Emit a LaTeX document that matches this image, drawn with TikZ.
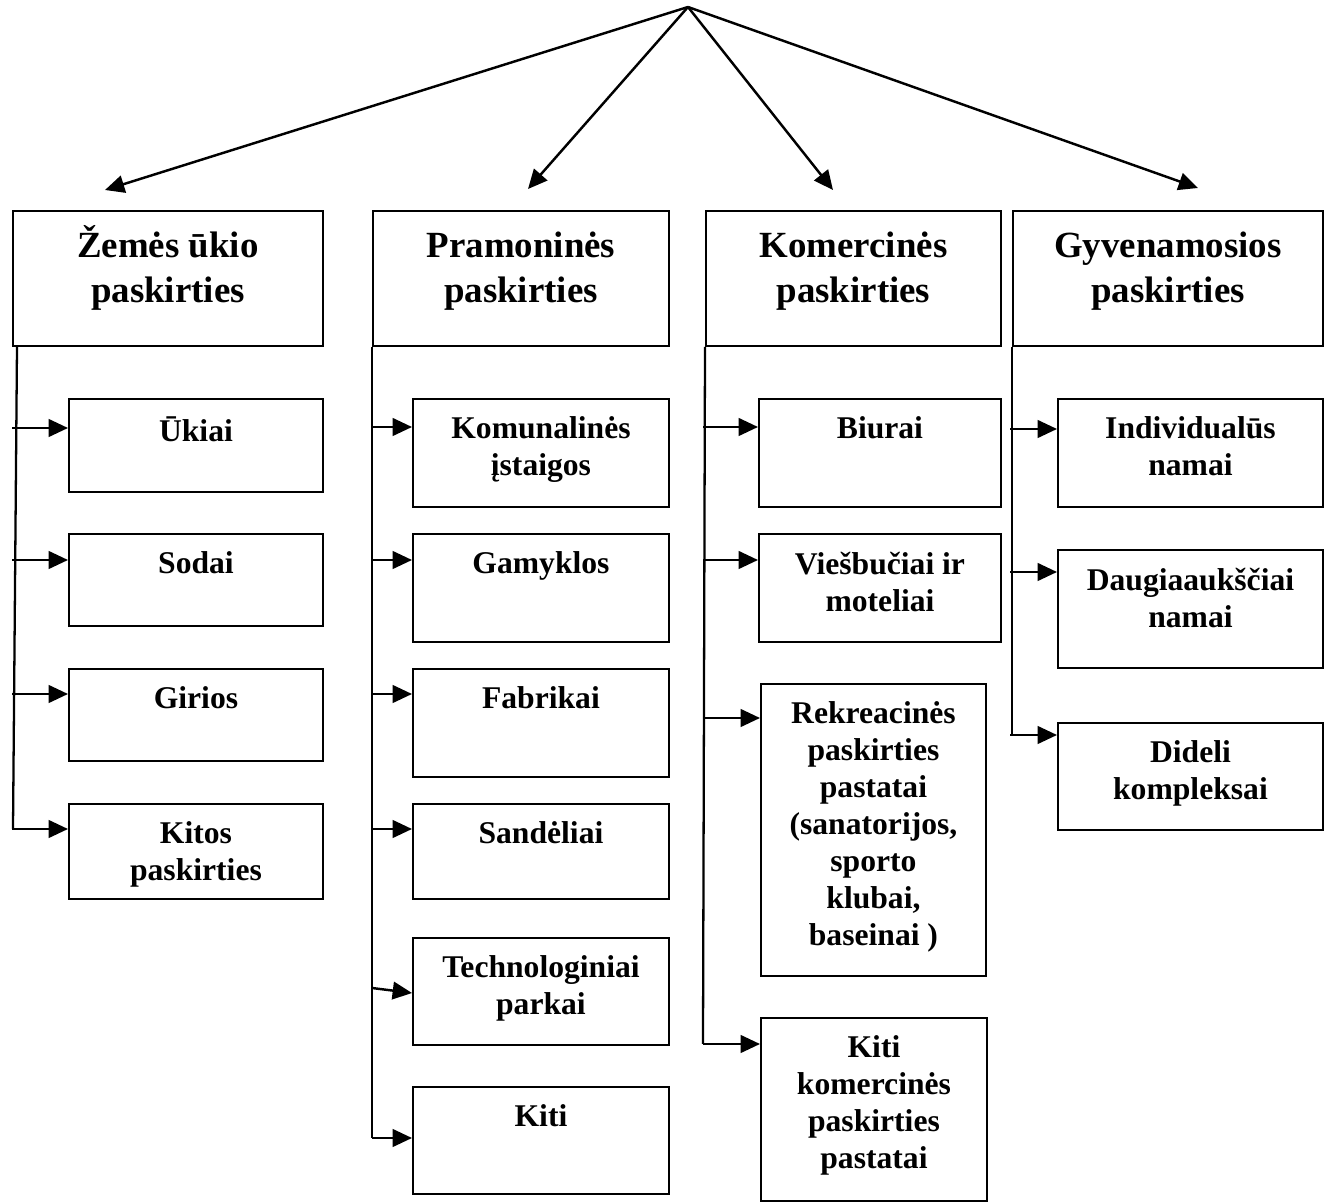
\documentclass[tikz,border=0pt]{standalone}
\usepackage{fontspec}
\setmainfont{Liberation Serif}
\usetikzlibrary{positioning,arrows.meta}
\def\pxu{0.02cm}
\tikzset{
  cbox/.style={draw, line width=1.1pt, inner sep=0pt, anchor=north west},
  htxt/.style={inner sep=0pt, align=center, font=\fontsize{21}{25.5}\selectfont\bfseries},
  ctxt/.style={inner sep=0pt, align=center, font=\fontsize{18}{21}\selectfont\bfseries},
  arr/.style={line width=1.4pt, -{Triangle[length=11pt,width=10pt]}},
  trunk/.style={line width=1.3pt},
}
\begin{document}
\begin{tikzpicture}[x=0.02cm, y=-0.02cm]
\useasboundingbox (0,0) rectangle (1330,1202);
% header boxes
\foreach \n/\x/\w/\d/\t in {hzemes/12/310/0.3/{Žemės ūkio\\paskirties}, hpram/372/296/0.44/{Pramoninės\\paskirties}, hkom/705/295/0.44/{Komercinės\\paskirties}, hgyv/1012/310/0.44/{Gyvenamosios\\paskirties}}
{
  \node[cbox, minimum width=\w*\pxu, minimum height=135*\pxu] (\n) at (\x,210) {};
  \node[htxt, below=\d cm of \n.north] (\n-t) {\t};
}
% top arrows
\coordinate (apex) at (688,7);
\foreach \c/\x/\y in {az/105/190, ap/528/189, ak/833/190, ag/1198/188}
{
  \coordinate (\c) at (\x,\y);
  \draw[arr] (apex) -- (\c);
}
% sub boxes
\foreach \n/\x/\y/\w/\h/\t in {
  ukiai/68/398/254/93/{Ūkiai},
  sodai/68/533/254/92/{Sodai},
  girios/68/668/254/92/{Girios},
  kitos/68/803/254/95/{Kitos\\paskirties},
  komun/412/398/256/108/{Komunalinės\\įstaigos},
  gamyk/412/533/256/108/{Gamyklos},
  fabrik/412/668/256/108/{Fabrikai},
  sandel/412/803/256/95/{Sandėliai},
  techno/412/937/256/107/{Technologiniai\\parkai},
  kitip/412/1086/256/107/{Kiti},
  biurai/758/398/242/108/{Biurai},
  viesb/758/533/242/108/{Viešbučiai ir\\moteliai},
  rekre/760/683/225/292/{Rekreacinės\\paskirties\\pastatai\\(sanatorijos,\\sporto\\klubai,\\baseinai )},
  kitik/760/1017/226/183/{Kiti\\komercinės\\paskirties\\pastatai},
  indiv/1057/398/265/108/{Individualūs\\namai},
  daugia/1057/549/265/118/{Daugiaaukščiai\\namai},
  dideli/1057/722/265/107/{Dideli\\kompleksai}}
{
  \node[cbox, minimum width=\w*\pxu, minimum height=\h*\pxu] (\n) at (\x,\y) {};
  \node[ctxt, below=0.37cm of \n.north] (\n-t) {\t};
}
% trunks
\coordinate (t1) at (13,829);
\coordinate (t2) at (372,1138);
\coordinate (t3) at (703,1044);
\coordinate (t4) at (1012,735);
\draw[trunk] ([xshift=0.1cm]hzemes.south west) -- (t1);
\draw[trunk] (hpram.south west) -- (t2);
\draw[trunk] (hkom.south west) -- (t3);
\draw[trunk] (hgyv.south west) -- (t4);
% branch arrows
\foreach \b/\y in {ukiai/428, sodai/560, girios/694, kitos/829}
  \draw[arr] (12,\y) -- (\b.west |- 0,\y);
\foreach \b/\y in {komun/427, gamyk/560, fabrik/694, sandel/829, kitip/1138}
  \draw[arr] (372,\y) -- (\b.west |- 0,\y);
\draw[arr] (372,988) -- (techno.west |- 0,993);
\foreach \b/\y in {biurai/427, viesb/560, rekre/718, kitik/1044}
  \draw[arr] (703,\y) -- (\b.west |- 0,\y);
\foreach \b/\y in {indiv/429, daugia/572, dideli/735}
  \draw[arr] (1010,\y) -- (\b.west |- 0,\y);
\end{tikzpicture}
\end{document}
